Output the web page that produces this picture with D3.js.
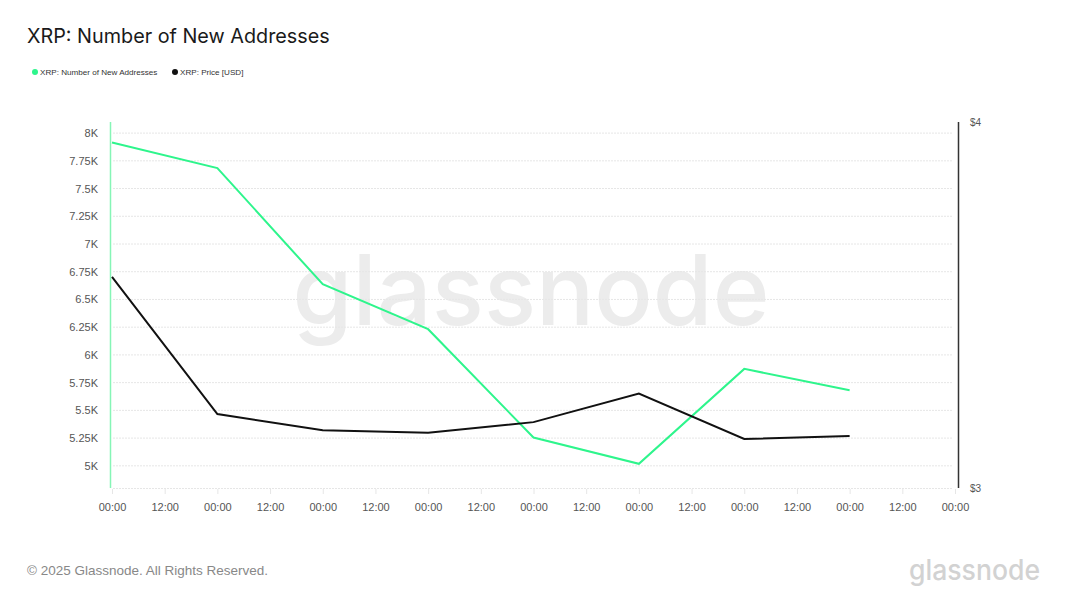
<!DOCTYPE html>
<html>
<head>
<meta charset="utf-8">
<script src="https://cdn.jsdelivr.net/npm/d3@7"></script>
<style>
  body { margin: 0; background: #fff; }
  svg { display: block; }
</style>
</head>
<body>
<script>
// ---------------- data ----------------
const dates = ["2025-07-20", "2025-07-21", "2025-07-22", "2025-07-23",
               "2025-07-24", "2025-07-25", "2025-07-26", "2025-07-27"];
const newAddresses = [7916, 7685, 6637, 6232, 5255, 5018, 5874, 5682];
const priceUsd = [3.577, 3.202, 3.158, 3.151, 3.180, 3.258, 3.134, 3.142];
const leftTicks = [5000, 5250, 5500, 5750, 6000, 6250, 6500, 6750, 7000, 7250, 7500, 7750, 8000];
const rightTicks = [3, 4];
const seriesNames = ["XRP: Number of New Addresses", "XRP: Price [USD]"];

// ---------------- init ----------------
const width = 1068, height = 601;
const green = "#2ef58c", black = "#111";
const parse = d3.utcParse("%Y-%m-%d");
const days = dates.map(parse);
const xEnd = d3.utcDay.offset(days[days.length - 1], 1);

const xScale = d3.scaleUtc().domain([days[0], xEnd]).range([112, 955]);
const yLeft = d3.scaleLinear().domain([4800, 8100]).range([488, 122]);
const yRight = d3.scaleLinear().domain([3, 4]).range([488, 122]);

const svg = d3.select("body").append("svg")
  .attr("width", width)
  .attr("height", height);

// title
svg.append("text")
  .attr("x", 27).attr("y", 43)
  .attr("font-family", "Inter, 'Liberation Sans', sans-serif")
  .attr("font-size", 19.8)
  .attr("fill", "#1a1a1a")
  .text("XRP: Number of New Addresses");

// legend
const legend = svg.append("g").attr("font-family", "'Liberation Sans', Arial, sans-serif")
  .attr("font-size", 8.1).attr("fill", "#333");
[[35, green, seriesNames[0]], [175, black, seriesNames[1]]].forEach(function (l) {
  legend.append("circle").attr("cx", l[0]).attr("cy", 72).attr("r", 3).attr("fill", l[1]);
  legend.append("text").attr("x", l[0] + 5).attr("y", 75).text(l[2]);
});

// watermark
svg.append("text")
  .attr("x", 531).attr("y", 325)
  .attr("text-anchor", "middle")
  .attr("font-family", "Inter, 'Liberation Sans', sans-serif")
  .attr("font-weight", 500)
  .attr("font-size", 98)
  .attr("textLength", 477)
  .attr("lengthAdjust", "spacingAndGlyphs")
  .attr("fill", "#ececec")
  .text("glassnode");

// grid
svg.append("g")
  .selectAll("line")
  .data(leftTicks)
  .join("line")
  .attr("x1", 113).attr("x2", 953)
  .attr("y1", d => yLeft(d)).attr("y2", d => yLeft(d))
  .attr("stroke", "#e6e6e6")
  .attr("stroke-dasharray", "2,1");

svg.append("line")
  .attr("x1", 113).attr("x2", 953)
  .attr("y1", 488.5).attr("y2", 488.5)
  .attr("stroke", "#e6e6e6")
  .attr("stroke-dasharray", "2,1");

// x axis
const xAxis = d3.axisBottom(xScale)
  .ticks(d3.utcHour.every(12))
  .tickFormat(d3.utcFormat("%H:%M"))
  .tickSize(5)
  .tickPadding(9);

const gx = svg.append("g")
  .attr("transform", "translate(0,489)")
  .call(xAxis);
gx.select(".domain").remove();
gx.selectAll(".tick line").attr("stroke", "#e6e6e6");
gx.selectAll(".tick text")
  .attr("fill", "#555")
  .attr("font-size", 11)
  .attr("font-family", "'Liberation Sans', Arial, sans-serif");

// left axis
const yAxis = d3.axisLeft(yLeft)
  .tickValues(leftTicks)
  .tickFormat(d => (d / 1000) + "K")
  .tickSize(0)
  .tickPadding(12);

const gy = svg.append("g")
  .attr("transform", "translate(110,0)")
  .call(yAxis);
gy.select(".domain").remove();
gy.selectAll(".tick text")
  .attr("fill", "#555")
  .attr("font-size", 11)
  .attr("font-family", "'Liberation Sans', Arial, sans-serif");

svg.append("line")
  .attr("x1", 110.5).attr("x2", 110.5)
  .attr("y1", 122).attr("y2", 488)
  .attr("stroke", "#86f5b6").attr("stroke-width", 1.5);

// right axis
const yAxisR = d3.axisRight(yRight)
  .tickValues(rightTicks)
  .tickFormat(d => "$" + d)
  .tickSize(0)
  .tickPadding(12);

const gr = svg.append("g")
  .attr("transform", "translate(958,0)")
  .call(yAxisR);
gr.select(".domain").remove();
gr.selectAll(".tick text")
  .attr("fill", "#555")
  .attr("font-size", 10)
  .attr("font-family", "'Liberation Sans', Arial, sans-serif");

svg.append("line")
  .attr("x1", 958.5).attr("x2", 958.5)
  .attr("y1", 122).attr("y2", 488)
  .attr("stroke", "#333").attr("stroke-width", 1.5);

// ---------------- lines ----------------
const lineLeft = d3.line()
  .x((d, i) => xScale(days[i]))
  .y(d => yLeft(d));

const lineRight = d3.line()
  .x((d, i) => xScale(days[i]))
  .y(d => yRight(d));

svg.append("path")
  .attr("d", lineLeft(newAddresses))
  .attr("fill", "none")
  .attr("stroke", green)
  .attr("stroke-width", 2);

svg.append("path")
  .attr("d", lineRight(priceUsd))
  .attr("fill", "none")
  .attr("stroke", black)
  .attr("stroke-width", 2);

// footer
svg.append("text")
  .attr("x", 27).attr("y", 575)
  .attr("font-family", "'Liberation Sans', Arial, sans-serif")
  .attr("font-size", 13.5)
  .attr("fill", "#888")
  .text("© 2025 Glassnode. All Rights Reserved.");

svg.append("text")
  .attr("x", 1040).attr("y", 580)
  .attr("text-anchor", "end")
  .attr("font-family", "Inter, 'Liberation Sans', sans-serif")
  .attr("font-weight", 500)
  .attr("font-size", 28)
  .attr("textLength", 131)
  .attr("lengthAdjust", "spacingAndGlyphs")
  .attr("fill", "#d2d2d2")
  .text("glassnode");
</script>
</body>
</html>
